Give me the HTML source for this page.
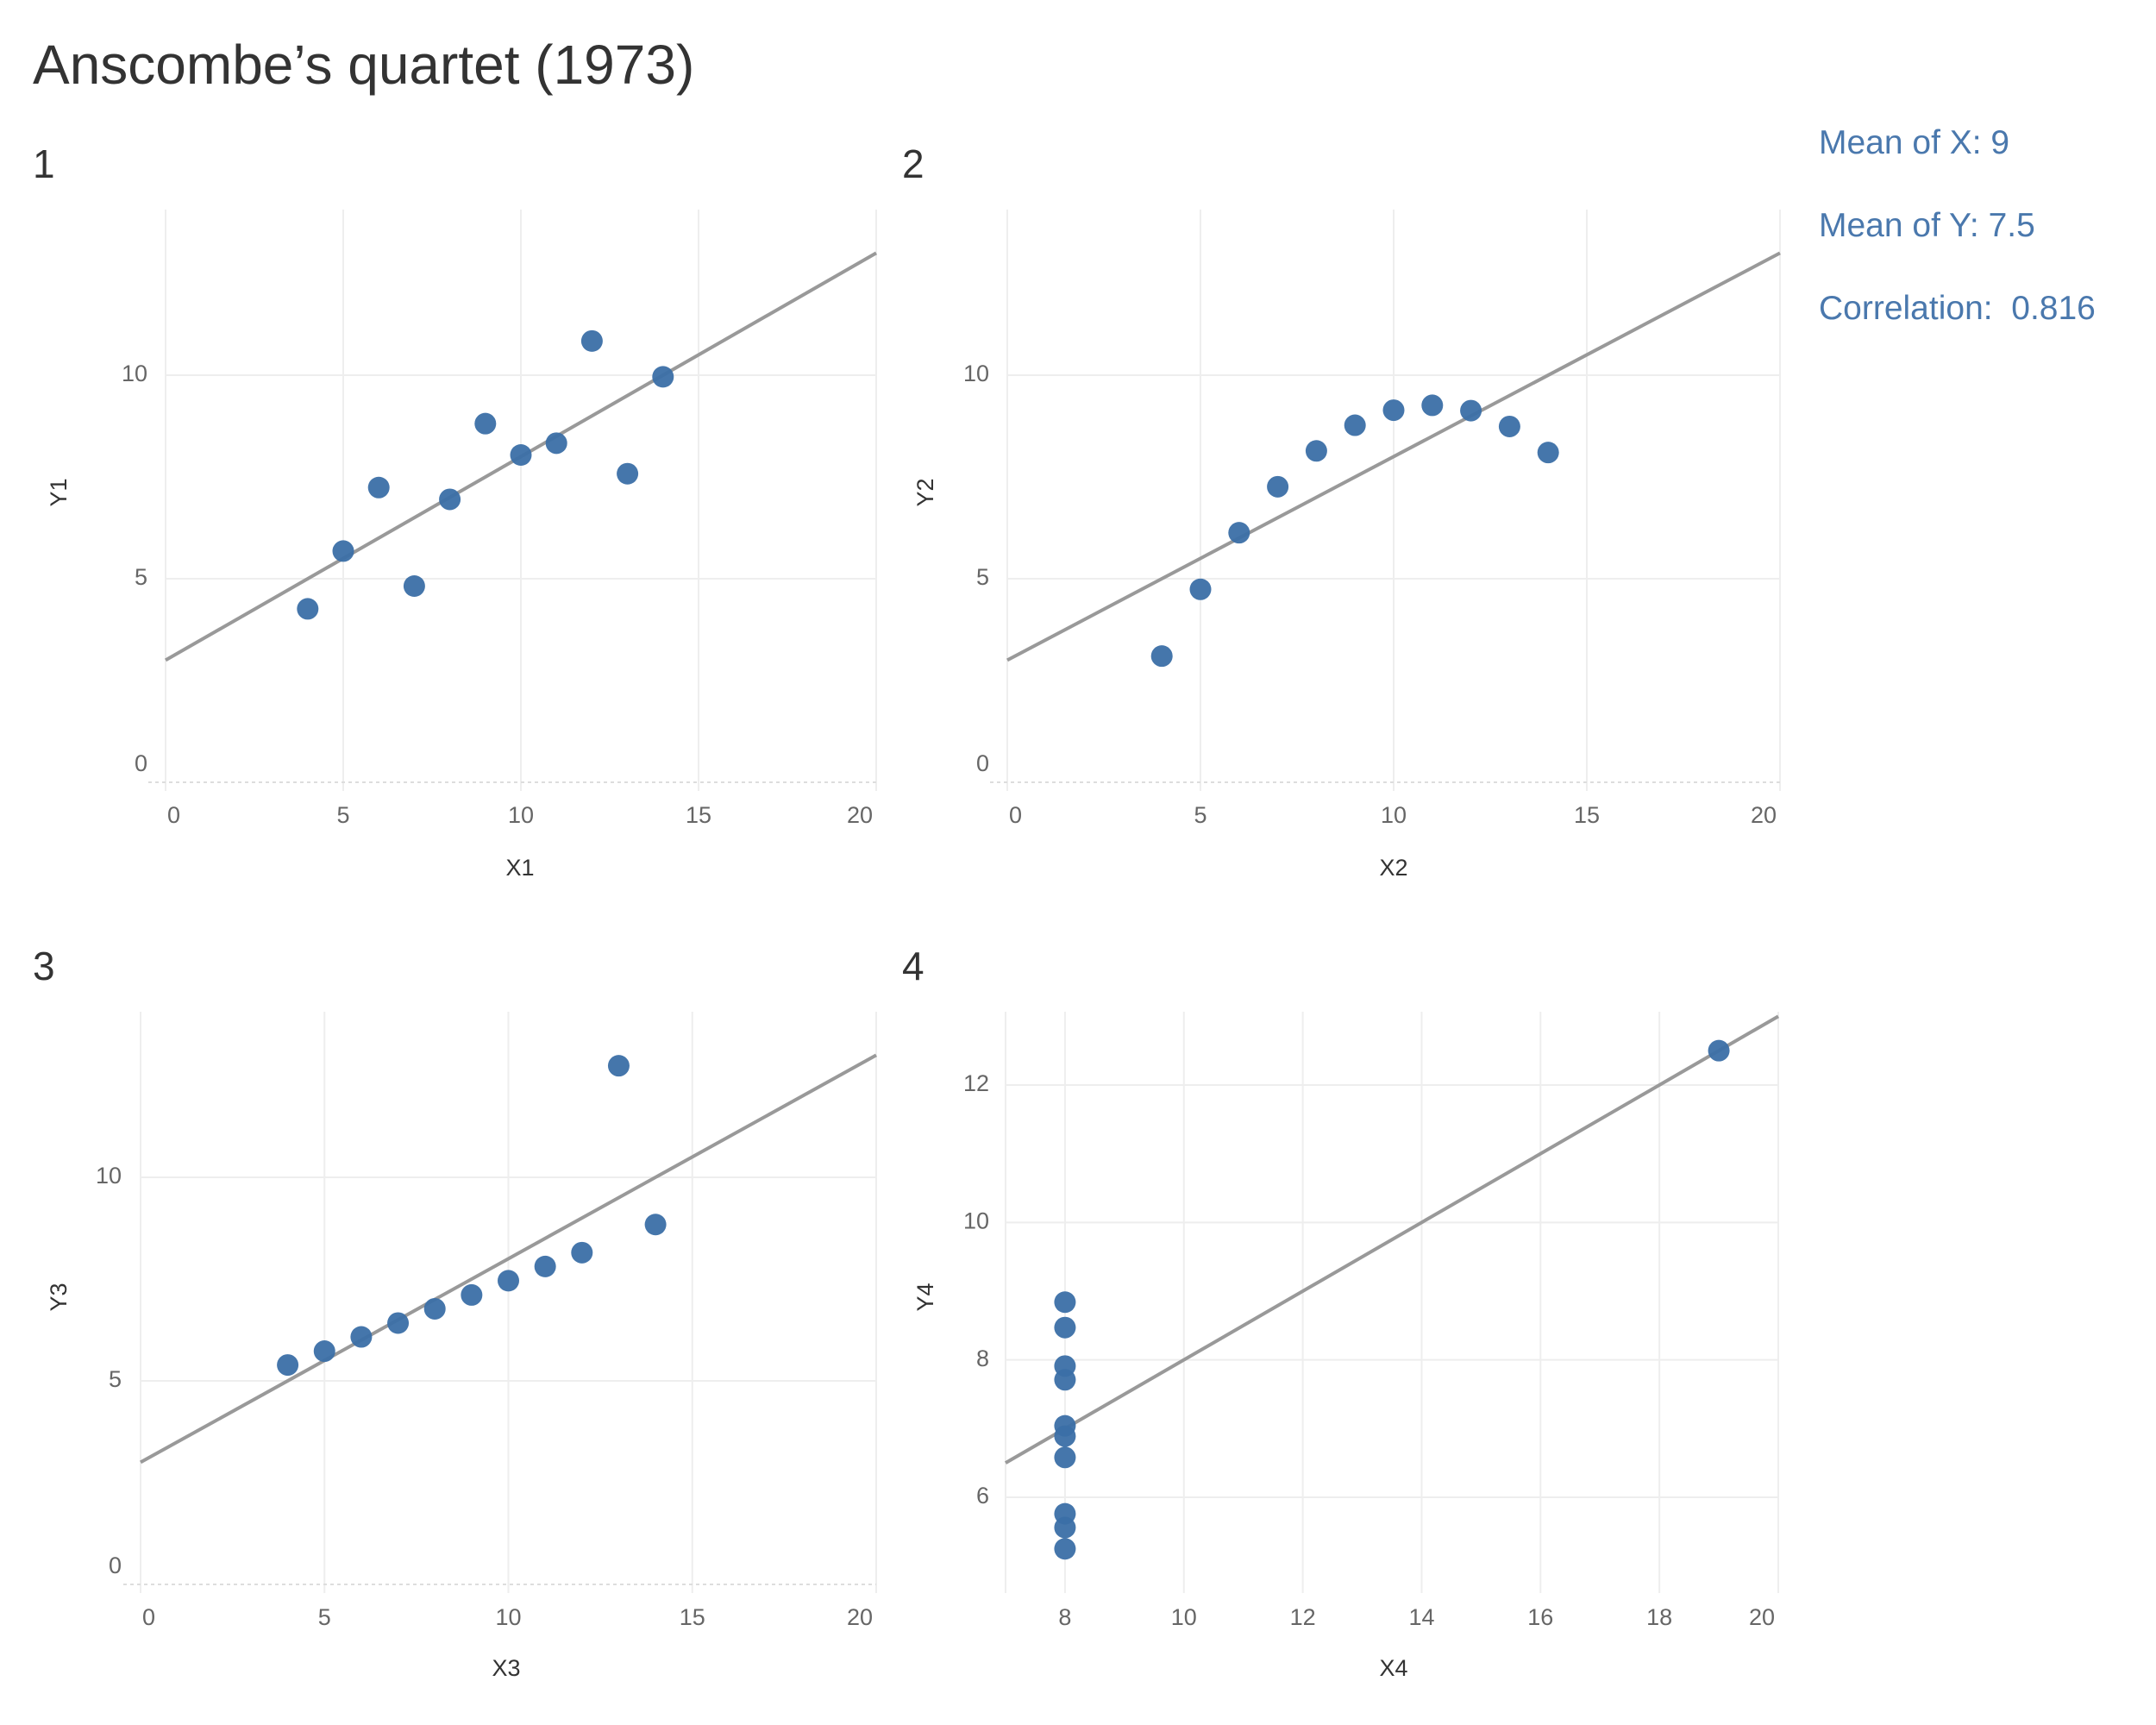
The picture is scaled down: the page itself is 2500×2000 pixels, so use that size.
<!DOCTYPE html>
<html><head><meta charset="utf-8"><style>
html,body{margin:0;padding:0;background:#fff;}
svg{display:block;font-family:"Liberation Sans",sans-serif;}
</style></head><body>
<svg id="chart" width="2500" height="2000" viewBox="0 0 2500 2000">
<text x="38" y="97" font-size="64" fill="#333">Anscombe’s quartet (1973)</text>
<text x="2109" y="178" font-size="39" fill="#4a78ad">Mean of X: 9</text>
<text x="2109" y="274" font-size="39" fill="#4a78ad">Mean of Y: 7.5</text>
<text x="2109" y="370" font-size="39" fill="#4a78ad" xml:space="preserve">Correlation:  0.816</text>
</svg>
<script>
const x123 = [10,8,13,9,11,14,6,4,12,7,5];
const y1 = [8.04,6.95,7.58,8.81,8.33,9.96,7.24,4.26,10.84,4.82,5.68];
const y2 = [9.14,8.14,8.74,8.77,9.26,8.10,6.13,3.10,9.13,7.26,4.74];
const y3 = [7.46,6.77,12.74,7.11,7.81,8.84,6.08,5.39,8.15,6.42,5.73];
const x4 = [8,8,8,8,8,8,8,19,8,8,8];
const y4 = [6.58,5.76,7.71,8.84,8.47,7.04,5.25,12.50,5.56,7.91,6.89];
const xTicks123 = [0,5,10,15,20];
const yTicks123 = [0,5,10];
const xTicks4 = [8,10,12,14,16,18,20];
const yTicks4 = [6,8,10,12];
const fitIntercept = 3, fitSlope = 0.5;

const NS = "http://www.w3.org/2000/svg";
const svg = document.getElementById('chart');
function mk(tag, attrs, parent){
  const e = document.createElementNS(NS, tag);
  for (const k in attrs) e.setAttribute(k, attrs[k]);
  (parent||svg).appendChild(e);
  return e;
}
function panel(cfg){
  const g = mk('g', {});
  
  
  const sx = v => cfg.px0 + (v - cfg.xmin) / (cfg.xmax - cfg.xmin) * (cfg.px1 - cfg.px0);
  const sy = v => cfg.py0 + (v - cfg.ya) / (cfg.yb - cfg.ya) * (cfg.py1 - cfg.py0);
  const left = sx(cfg.xmin), right = sx(cfg.xmax), bottom = cfg.bottom;
  const pl = mk('text', {x: cfg.labelX, y: cfg.labelY, 'font-size': 46, fill: '#333'}, g);
  pl.textContent = cfg.id;
  
  
  cfg.xTicks.forEach((t, i) => {
    const x = sx(t);
    const gl = mk('line', {x1: x, x2: x, y1: cfg.top, y2: bottom + 10, stroke: '#eeeeee', 'stroke-width': 2}, g);
    
    
    let anchor = 'middle', tx = x;
    if (i === 0 && t === cfg.xmin) { anchor = 'start'; tx = x + 2; }
    if (i === cfg.xTicks.length - 1) { anchor = 'end'; tx = x - 4; }
    const tl = mk('text', {x: tx, y: cfg.xTickY, 'font-size': 27, fill: '#666', 'text-anchor': anchor, 'dominant-baseline': 'middle'}, g);
    tl.textContent = t;
    
    
  });
  if (cfg.xmin !== cfg.xTicks[0]) {
    const gl = mk('line', {x1: left, x2: left, y1: cfg.top, y2: bottom + 10, stroke: '#eeeeee', 'stroke-width': 2}, g);
    
    
  }
  cfg.yTicks.forEach(t => {
    const y = sy(t);
    const isZero = t === 0;
    const gl = mk('line', {x1: left - (isZero ? 20 : 0), x2: right, y1: y, y2: y, stroke: isZero ? '#dddddd' : '#eeeeee', 'stroke-width': 2, 'stroke-dasharray': isZero ? '4 4' : 'none'}, g);
    
    
    const tl = mk('text', {x: cfg.yTickX, y: isZero ? y - 20 : y, 'font-size': 27, fill: '#666', 'text-anchor': 'end', 'dominant-baseline': 'middle'}, g);
    tl.textContent = t;
    
    
  });
  const xt = mk('text', {x: cfg.xTitleX, y: cfg.xTitleY, 'font-size': 27, fill: '#333', 'text-anchor': 'middle', 'dominant-baseline': 'middle'}, g);
  xt.textContent = cfg.xTitle;
  
  
  const yt = mk('text', {x: 0, y: 0, 'font-size': 27, fill: '#333', 'text-anchor': 'middle', 'dominant-baseline': 'middle', transform: `translate(${cfg.yTitleX},${cfg.yTitleY}) rotate(-90)`}, g);
  yt.textContent = cfg.yTitle;
  
  
  const fl = mk('line', {x1: sx(cfg.xmin), y1: sy(fitIntercept + fitSlope * cfg.xmin), x2: sx(cfg.xmax), y2: sy(fitIntercept + fitSlope * cfg.xmax), stroke: '#999', 'stroke-width': 4}, g);
  
  
  cfg.xs.forEach((xv, i) => {
    const c = mk('circle', {cx: sx(xv), cy: sy(cfg.ys[i]), r: 12.5, fill: '#3b6fa6', 'fill-opacity': 0.95}, g);
    
    
  });
}
panel({id:'1', xs:x123, ys:y1, xmin:0, xmax:20, px0:192, px1:1016, ya:0, yb:10, py0:907, py1:435, top:243, bottom:907,
  xTicks:xTicks123, yTicks:yTicks123, xTickY:947, yTickX:171, labelX:38, labelY:206,
  xTitle:'X1', xTitleX:603, xTitleY:1008, yTitle:'Y1', yTitleX:70, yTitleY:571});
panel({id:'2', xs:x123, ys:y2, xmin:0, xmax:20, px0:1168, px1:2064, ya:0, yb:10, py0:907, py1:435, top:243, bottom:907,
  xTicks:xTicks123, yTicks:yTicks123, xTickY:947, yTickX:1147, labelX:1046, labelY:206,
  xTitle:'X2', xTitleX:1616, xTitleY:1008, yTitle:'Y2', yTitleX:1075, yTitleY:571});
panel({id:'3', xs:x123, ys:y3, xmin:0, xmax:20, px0:163, px1:1016, ya:0, yb:10, py0:1837, py1:1365, top:1173, bottom:1837,
  xTicks:xTicks123, yTicks:yTicks123, xTickY:1877, yTickX:141, labelX:38, labelY:1136,
  xTitle:'X3', xTitleX:587, xTitleY:1936, yTitle:'Y3', yTitleX:70, yTitleY:1504});
panel({id:'4', xs:x4, ys:y4, xmin:7, xmax:20, px0:1166, px1:2062, ya:6, yb:12, py0:1736, py1:1258, top:1173, bottom:1837,
  xTicks:xTicks4, yTicks:yTicks4, xTickY:1877, yTickX:1147, labelX:1046, labelY:1136,
  xTitle:'X4', xTitleX:1616, xTitleY:1936, yTitle:'Y4', yTitleX:1075, yTitleY:1504});
</script>
</body></html>
